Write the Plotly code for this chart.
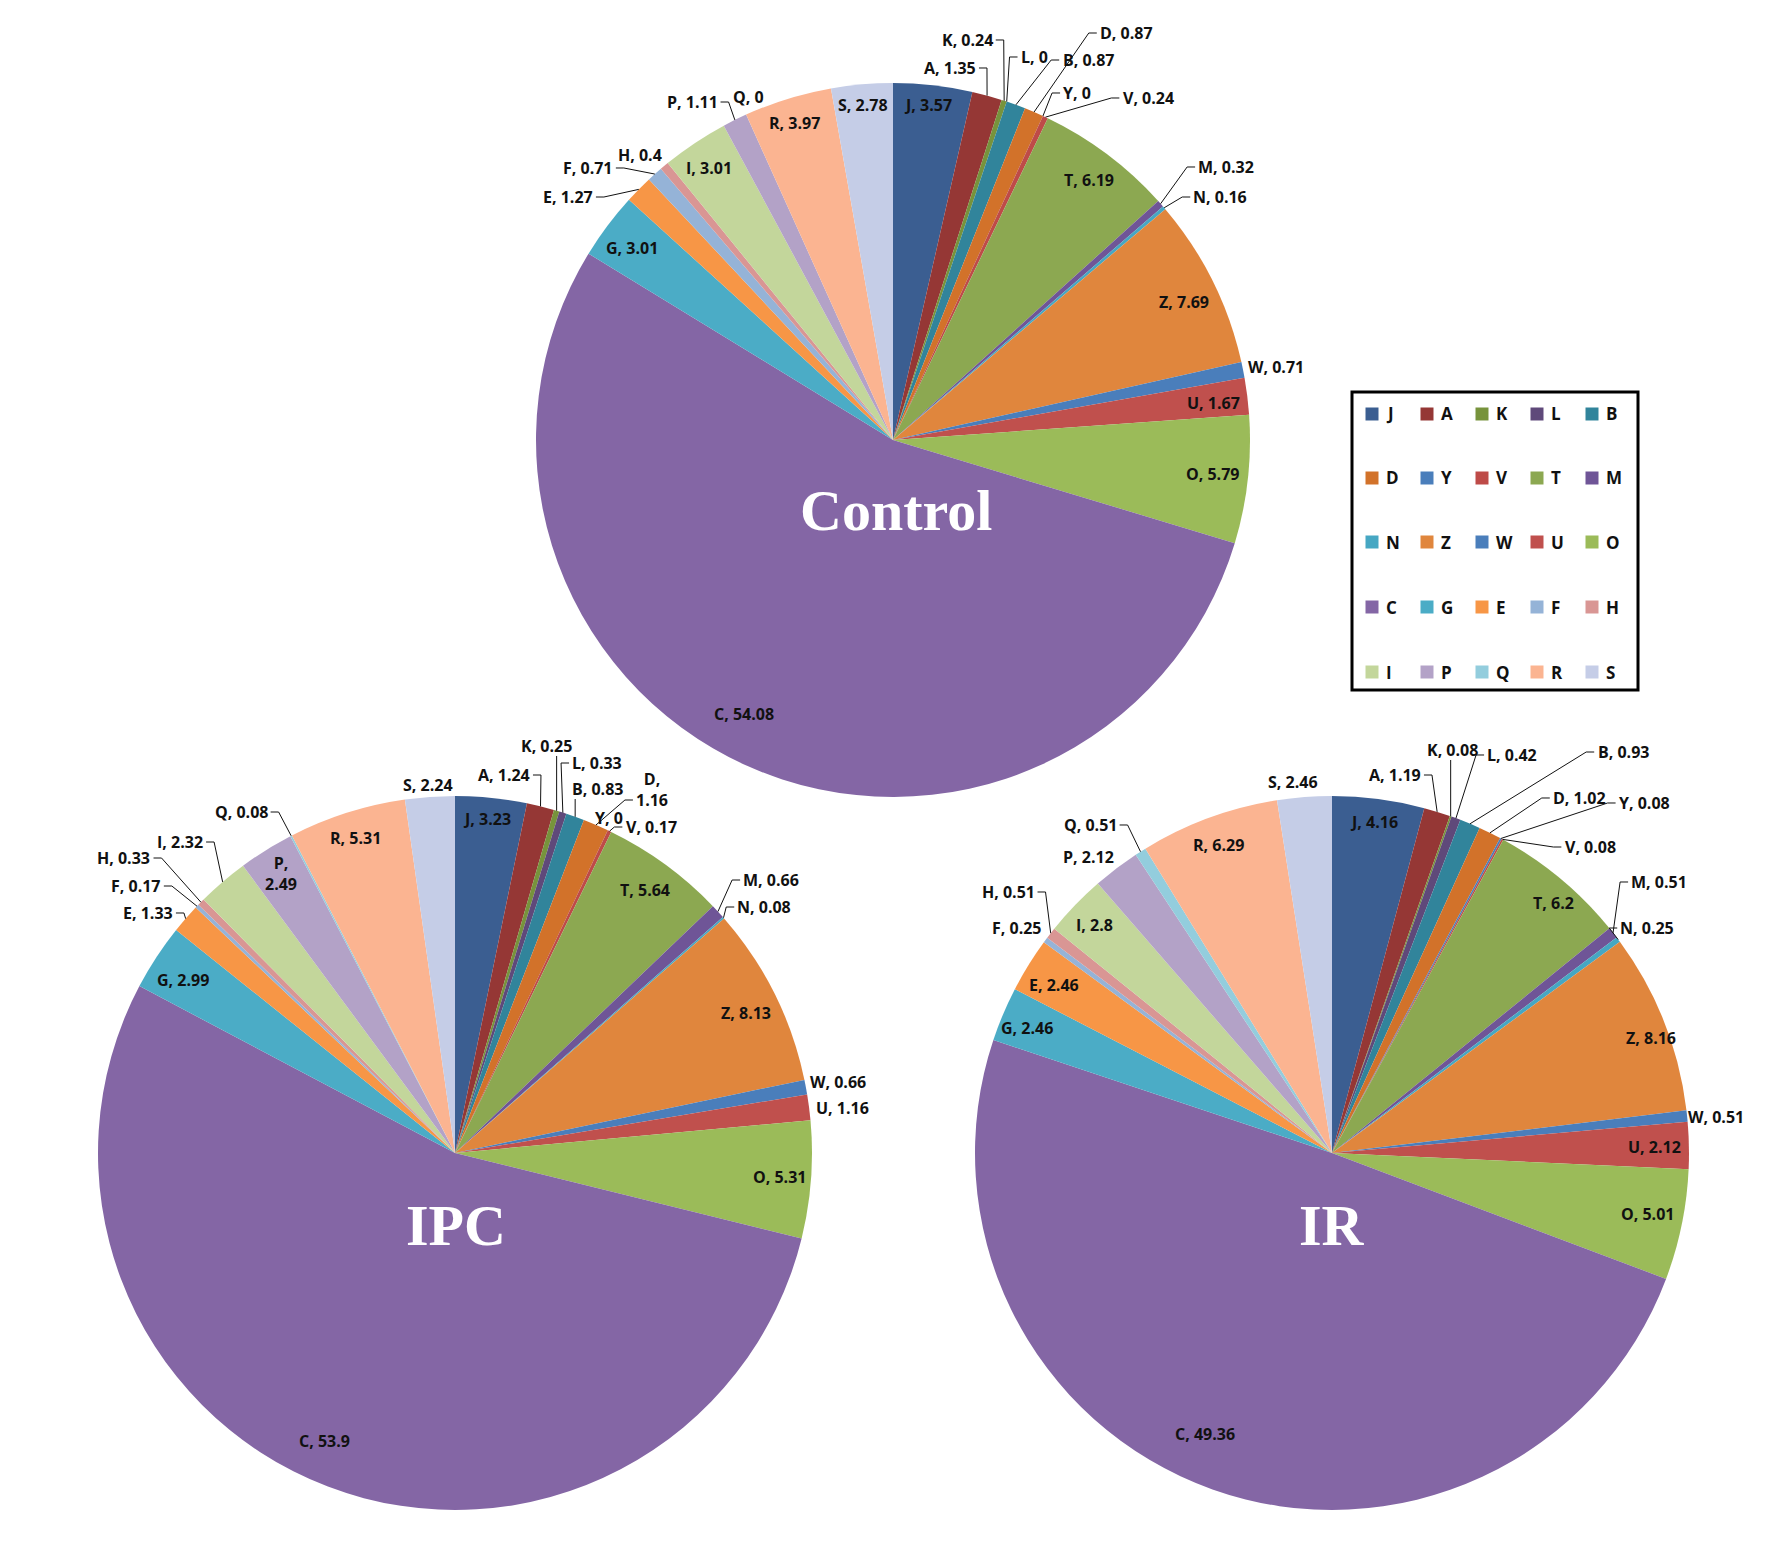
import math
import plotly.graph_objects as go

# ---------------- data ----------------
categories = ["J", "A", "K", "L", "B", "D", "Y", "V", "T", "M", "N", "Z", "W",
              "U", "O", "C", "G", "E", "F", "H", "I", "P", "Q", "R", "S"]
control_values = [3.57, 1.35, 0.24, 0, 0.87, 0.87, 0, 0.24, 6.19, 0.32, 0.16, 7.69, 0.71,
                  1.67, 5.79, 54.08, 3.01, 1.27, 0.71, 0.4, 3.01, 1.11, 0, 3.97, 2.78]
ipc_values = [3.23, 1.24, 0.25, 0.33, 0.83, 1.16, 0, 0.17, 5.64, 0.66, 0.08, 8.13, 0.66,
              1.16, 5.31, 53.9, 2.99, 1.33, 0.17, 0.33, 2.32, 2.49, 0.08, 5.31, 2.24]
ir_values = [4.16, 1.19, 0.08, 0.42, 0.93, 1.02, 0.08, 0.08, 6.2, 0.51, 0.25, 8.16, 0.51,
             2.12, 5.01, 49.36, 2.46, 2.46, 0.25, 0.51, 2.8, 2.12, 0.51, 6.29, 2.46]
panel_titles = ["Control", "IPC", "IR"]

# ---------------- style ----------------
colors = ["#3B5E91", "#953735", "#77933C", "#5F497A", "#31849B",
          "#D2722A", "#4A7EBB", "#BE4B48", "#8CA851", "#6F5597",
          "#46A7C3", "#E0863D", "#4A7EBB", "#C0504D", "#9BBB59",
          "#8466A5", "#4BACC6", "#F79646", "#95B3D7", "#D99694",
          "#C3D69B", "#B3A2C7", "#93CDDD", "#FBB491", "#C5CDE7"]

W, H, OFF = 1767, 1534, 8   # page pixels -> paper


def px(X):
    return (X - OFF) / W


def py(Y):
    return 1 - (Y - OFF) / H


# pie geometry (page pixels): center x, center y, radius
pie_geom = {
    "Control": (893, 440, 357),
    "IPC": (455, 1153, 357),
    "IR": (1332, 1153, 357),
}
title_pos = {"Control": (896, 510), "IPC": (456, 1225), "IR": (1332, 1225)}

# label centres (page pixels)
label_pos = {
    "Control": {"J": (928, 105), "A": (950, 68), "K": (967, 40), "L": (1034, 57), "B": (1088, 60),
                "D": (1126, 33), "Y": (1077, 93), "V": (1148, 98), "T": (1089, 180), "M": (1226, 167),
                "N": (1220, 197), "Z": (1184, 302), "W": (1276, 367), "U": (1213, 403), "O": (1212, 474),
                "C": (744, 714), "G": (632, 248), "E": (568, 197), "F": (588, 168), "H": (640, 155),
                "I": (709, 168), "P": (692, 102), "Q": (748, 97), "R": (794, 123), "S": (863, 105)},
    "IPC": {"J": (487, 819), "A": (504, 775), "K": (546, 746), "L": (597, 763), "B": (597, 789),
            "D": (652, 790), "Y": (609, 818), "V": (651, 827), "T": (645, 890), "M": (771, 880),
            "N": (764, 907), "Z": (746, 1013), "W": (838, 1082), "U": (842, 1108), "O": (779, 1177),
            "C": (324, 1441), "G": (183, 980), "E": (148, 913), "F": (136, 886), "H": (124, 858),
            "I": (180, 842), "P": (281, 874), "Q": (241, 812), "R": (355, 838), "S": (428, 785)},
    "IR": {"J": (1374, 822), "A": (1395, 775), "K": (1452, 750), "L": (1512, 755), "B": (1623, 752),
           "D": (1579, 798), "Y": (1644, 803), "V": (1590, 847), "T": (1553, 903), "M": (1659, 882),
           "N": (1647, 928), "Z": (1651, 1038), "W": (1716, 1117), "U": (1654, 1147), "O": (1647, 1214),
           "C": (1205, 1434), "G": (1027, 1028), "E": (1054, 985), "F": (1017, 928), "H": (1008, 892),
           "I": (1094, 925), "P": (1088, 857), "Q": (1090, 825), "R": (1218, 845), "S": (1293, 782)},
}
two_line = {"IPC": {"D", "P"}}
leaders = {
    "Control": {"A", "K", "L", "B", "D", "Y", "V", "M", "N", "E", "F", "P"},
    "IPC": {"A", "K", "L", "B", "D", "V", "M", "N", "E", "F", "H", "I", "Q"},
    "IR": {"A", "K", "L", "B", "D", "Y", "V", "M", "N", "H", "Q"},
}

FS = 16
CW = {c: 0.572 for c in "0123456789"}
CW.update({",": 0.29, ".": 0.29, " ": 0.26, "A": .69, "B": .67, "C": .63, "D": .72, "E": .56,
           "F": .55, "G": .72, "H": .76, "I": .33, "J": .33, "K": .66, "L": .56, "M": .93,
           "N": .79, "O": .77, "P": .64, "Q": .77, "R": .66, "S": .56, "T": .57, "U": .76,
           "V": .65, "W": .99, "Y": .62, "Z": .58})


def text_w(s):
    return sum(CW.get(ch, 0.6) for ch in s) * FS


fig = go.Figure()
annotations = []
shapes = []

series = {"Control": control_values, "IPC": ipc_values, "IR": ir_values}

for name in panel_titles:
    vals = series[name]
    cx, cy, r = pie_geom[name]
    fig.add_trace(go.Pie(
        labels=categories, values=vals, sort=False, direction="clockwise", rotation=0,
        marker=dict(colors=colors, line=dict(width=0)),
        textinfo="none", hoverinfo="label+value", showlegend=False,
        domain=dict(x=[px(cx - r), px(cx + r)], y=[py(cy + r), py(cy - r)]),
        name=name,
    ))
    total = sum(vals)
    cum = 0.0
    for cat, v in zip(categories, vals):
        ang = 2 * math.pi * (cum + v / 2) / total
        cum += v
        tx, ty = cx + r * math.sin(ang), cy - r * math.cos(ang)
        lx, ly = label_pos[name][cat]
        txt = f"{cat}, {v:g}"
        two = cat in two_line.get(name, set())
        shown = f"<b>{cat},<br>{v:g}</b>" if two else f"<b>{txt}</b>"
        annotations.append(dict(
            x=px(lx), y=py(ly), xref="paper", yref="paper", text=shown, showarrow=False,
            xanchor="center", yanchor="middle", align="center",
            font=dict(family="Open Sans", size=FS, color="#111111"),
        ))
        if cat in leaders[name]:
            wlab = text_w(f"{v:g}") if two else text_w(txt)
            sy = ly + (10 if two else 0)
            dx = tx - lx
            if abs(dx) < wlab / 2 and ty > ly:
                pts = [(tx, ly + 10), (tx, ty)]
            else:
                side = 1 if dx > 0 else -1
                x0 = lx + side * (wlab / 2 + 3)
                x1 = x0 + side * 8
                pts = [(x0, sy), (x1, sy), (tx, ty)]
            path = "M " + " L ".join(f"{px(a):.5f},{py(b):.5f}" for a, b in pts)
            shapes.append(dict(type="path", path=path, xref="paper", yref="paper",
                               line=dict(color="#111111", width=1)))
    tx_, ty_ = title_pos[name]
    annotations.append(dict(
        x=px(tx_), y=py(ty_), xref="paper", yref="paper", text=f"<b>{name}</b>", showarrow=False,
        xanchor="center", yanchor="middle",
        font=dict(family="Liberation Serif", size=58, color="white"),
    ))

# ---------------- legend (5 x 5 grid in a framed box) ----------------
leg_box = (1352, 392, 1638, 690)
leg_cols = [1372, 1427, 1482, 1537, 1592]
leg_rows = [414, 478, 542, 607, 672]
SW = 13
shapes.append(dict(type="rect", xref="paper", yref="paper",
                   x0=px(leg_box[0]), x1=px(leg_box[2]), y0=py(leg_box[3]), y1=py(leg_box[1]),
                   line=dict(color="black", width=3), fillcolor="white"))
for i, (cat, col) in enumerate(zip(categories, colors)):
    cxl = leg_cols[i % 5]
    cyl = leg_rows[i // 5]
    shapes.append(dict(type="rect", xref="paper", yref="paper",
                       x0=px(cxl - SW / 2), x1=px(cxl + SW / 2),
                       y0=py(cyl + SW / 2), y1=py(cyl - SW / 2),
                       line=dict(width=0), fillcolor=col))
    annotations.append(dict(
        x=px(cxl + 12), y=py(cyl), xref="paper", yref="paper", text=f"<b>{cat}</b>",
        showarrow=False, xanchor="left", yanchor="middle",
        font=dict(family="Open Sans", size=17, color="#111111"),
    ))

fig.update_layout(
    width=W, height=H, margin=dict(l=0, r=0, t=0, b=0),
    paper_bgcolor="white", plot_bgcolor="white",
    annotations=annotations, shapes=shapes, showlegend=False,
)
fig.write_html("out.html")
